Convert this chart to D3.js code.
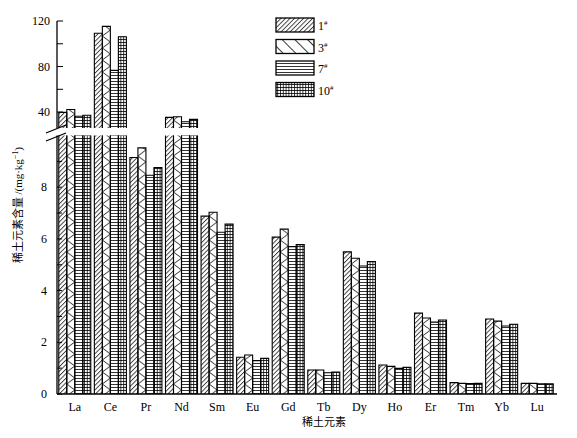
<!DOCTYPE html>
<html>
<head>
<meta charset="utf-8">
<script src="https://cdn.jsdelivr.net/npm/d3@7"></script>
<style>
  body { margin: 0; background: #fff; }
  text { font-family: "Liberation Serif", "Times New Roman", serif; fill: #000; }
  .cjk { font-family: "Noto Sans CJK SC", sans-serif; }
</style>
</head>
<body>
<div id="chart"></div>
<script>
// rare earth elements on the x axis
const elements = ["La", "Ce", "Pr", "Nd", "Sm", "Eu", "Gd", "Tb", "Dy", "Ho", "Er", "Tm", "Yb", "Lu"];
// sample series (mg/kg)
const sample1 = [39.7, 109.2, 9.15, 35.3, 6.88, 1.42, 6.07, 0.93, 5.50, 1.12, 3.13, 0.44, 2.90, 0.41];
const sample3 = [42.3, 115.3, 9.52, 35.9, 7.03, 1.51, 6.38, 0.93, 5.25, 1.07, 2.94, 0.41, 2.82, 0.41];
const sample7 = [36.3, 76.6, 8.46, 31.5, 6.26, 1.29, 5.70, 0.82, 4.95, 0.99, 2.78, 0.40, 2.63, 0.39];
const sample10 = [37.2, 106.2, 8.76, 33.6, 6.57, 1.38, 5.78, 0.85, 5.12, 1.03, 2.86, 0.41, 2.70, 0.39];
const seriesNames = ["1", "3", "7", "10"];
// y ticks for the two parts of the broken axis
const upperTicks = [40, 60, 80, 100, 120];
const upperLabels = [40, 80, 120];
const lowerTicks = [0, 1, 2, 3, 4, 5, 6, 7, 8, 9];
const lowerLabels = [0, 2, 4, 6, 8];

const series = [sample1, sample3, sample7, sample10];

const w = 577, h = 438;
const svg = d3.select("#chart").append("svg")
    .attr("width", w)
    .attr("height", h);

// scales
const x0 = d3.scaleBand().domain(elements).range([57, 555]).paddingInner(0.1).paddingOuter(0.05);
const x1 = d3.scaleBand().domain(d3.range(4)).range([0, x0.bandwidth()]);
const yLow = d3.scaleLinear().domain([0, 10]).range([394, 135.5]);
const yUp = d3.scaleLinear().domain([26, 120]).range([128, 21]);

// patterns
const defs = svg.append("defs");
// 1# dense "/" hatch
defs.append("pattern").attr("id", "p1").attr("patternUnits", "userSpaceOnUse")
    .attr("width", 3.2).attr("height", 10).attr("patternTransform", "rotate(45)")
    .append("line").attr("x1", 0.5).attr("x2", 0.5).attr("y1", 0).attr("y2", 10)
    .attr("stroke", "#000").attr("stroke-width", 0.8);
// 7# horizontal lines
defs.append("pattern").attr("id", "p7").attr("patternUnits", "userSpaceOnUse")
    .attr("width", 6).attr("height", 3)
    .append("line").attr("x1", 0).attr("x2", 6).attr("y1", 0.5).attr("y2", 0.5)
    .attr("stroke", "#000").attr("stroke-width", 0.8);
// 10# grid
const p10 = defs.append("pattern").attr("id", "p10").attr("patternUnits", "userSpaceOnUse")
    .attr("width", 2.8).attr("height", 3);
p10.append("line").attr("x1", 0).attr("x2", 2.8).attr("y1", 0.5).attr("y2", 0.5)
    .attr("stroke", "#000").attr("stroke-width", 0.8);
p10.append("line").attr("x1", 0.5).attr("x2", 0.5).attr("y1", 0).attr("y2", 3)
    .attr("stroke", "#000").attr("stroke-width", 0.8);
// 3# legend "\" hatch
defs.append("pattern").attr("id", "p3leg").attr("patternUnits", "userSpaceOnUse")
    .attr("width", 9).attr("height", 20).attr("patternTransform", "rotate(-45)")
    .append("line").attr("x1", 0.5).attr("x2", 0.5).attr("y1", 0).attr("y2", 20)
    .attr("stroke", "#000").attr("stroke-width", 0.8);
// 3# chevrons, one pattern per bar so they line up with the bar edges
elements.forEach((el, i) => {
    const bx = x0(el) + x1(1), bw = x1.bandwidth();
    defs.append("pattern").attr("id", "p3-" + i).attr("patternUnits", "userSpaceOnUse")
        .attr("x", bx).attr("y", 0).attr("width", bw).attr("height", 12)
        .append("path").attr("d", `M0,0 L${bw},6 L0,12`)
        .attr("fill", "none").attr("stroke", "#000").attr("stroke-width", 0.8);
});
const fillFor = (s, i) => s === 1 ? `url(#p3-${i})` : `url(#p${seriesNames[s]})`;

// bars
const g = svg.append("g");
elements.forEach((el, i) => {
    series.forEach((vals, s) => {
        const v = vals[i];
        const bx = x0(el) + x1(s), bw = x1.bandwidth();
        if (v <= 10) {
            g.append("rect").attr("x", bx).attr("y", yLow(v)).attr("width", bw)
                .attr("height", yLow(0) - yLow(v)).attr("fill", fillFor(s, i));
            g.append("path").attr("d", `M${bx},${yLow(0)} V${yLow(v)} H${bx + bw} V${yLow(0)}`)
                .attr("fill", "none").attr("stroke", "#000").attr("stroke-width", 1.1);
        } else {
            // lower part, cut at the break
            g.append("rect").attr("x", bx).attr("y", yLow(10)).attr("width", bw)
                .attr("height", yLow(0) - yLow(10)).attr("fill", fillFor(s, i));
            g.append("path").attr("d", `M${bx},${yLow(0)} V${yLow(10)} M${bx + bw},${yLow(10)} V${yLow(0)}`)
                .attr("fill", "none").attr("stroke", "#000").attr("stroke-width", 1.1);
            // upper part
            g.append("rect").attr("x", bx).attr("y", yUp(v)).attr("width", bw)
                .attr("height", yUp(26) - yUp(v)).attr("fill", fillFor(s, i));
            g.append("path").attr("d", `M${bx},${yUp(26)} V${yUp(v)} H${bx + bw} V${yUp(26)}`)
                .attr("fill", "none").attr("stroke", "#000").attr("stroke-width", 1.1);
        }
    });
});

// y axis, lower part
const axisX = 57;
svg.append("line").attr("x1", axisX).attr("x2", axisX).attr("y1", yLow(0)).attr("y2", yLow(10))
    .attr("stroke", "#000").attr("stroke-width", 1.3);
svg.append("g").selectAll("line").data(lowerTicks).enter().append("line")
    .attr("x1", axisX).attr("x2", axisX + 5)
    .attr("y1", d => yLow(d)).attr("y2", d => yLow(d))
    .attr("stroke", "#000").attr("stroke-width", 1);
svg.append("g").selectAll("text").data(lowerLabels).enter().append("text")
    .attr("x", axisX - 10).attr("y", d => yLow(d) + 4)
    .attr("text-anchor", "end").style("font-size", "12px")
    .text(d => d);

// y axis, upper part
svg.append("line").attr("x1", axisX).attr("x2", axisX).attr("y1", yUp(26)).attr("y2", yUp(120))
    .attr("stroke", "#000").attr("stroke-width", 1.3);
svg.append("g").selectAll("line").data(upperTicks).enter().append("line")
    .attr("x1", axisX).attr("x2", axisX + 6)
    .attr("y1", d => yUp(d)).attr("y2", d => yUp(d))
    .attr("stroke", "#000").attr("stroke-width", 1);
svg.append("g").selectAll("text").data(upperLabels).enter().append("text")
    .attr("x", axisX - 7).attr("y", d => yUp(d) + 4)
    .attr("text-anchor", "end").style("font-size", "12px")
    .text(d => d);

// break marks
svg.append("g").selectAll("line").data([0, 8]).enter().append("line")
    .attr("x1", 46).attr("x2", 66)
    .attr("y1", d => 133 + d).attr("y2", d => 125 + d)
    .attr("stroke", "#000").attr("stroke-width", 1.2);

// x axis baseline
svg.append("line").attr("x1", axisX).attr("x2", 557).attr("y1", yLow(0)).attr("y2", yLow(0))
    .attr("stroke", "#000").attr("stroke-width", 1.5);
svg.append("g").selectAll("text").data(elements).enter().append("text")
    .attr("x", d => x0(d) + x0.bandwidth() / 2).attr("y", 411)
    .attr("text-anchor", "middle").style("font-size", "12px")
    .text(d => d);

// axis titles
svg.append("text").attr("class", "cjk").attr("x", 324).attr("y", 426)
    .attr("text-anchor", "middle").style("font-size", "11px")
    .text("稀土元素");
const yt = svg.append("text").attr("transform", "translate(22,205) rotate(-90)")
    .attr("text-anchor", "middle").style("font-size", "11px");
yt.append("tspan").attr("class", "cjk").text("稀土元素含量 ");
yt.append("tspan").text("/(mg·kg");
yt.append("tspan").attr("dy", -4).style("font-size", "8px").text("−1");
yt.append("tspan").attr("dy", 4).text(")");

// legend
const legend = svg.append("g");
seriesNames.forEach((name, s) => {
    const ly = 18 + s * 21.5;
    legend.append("rect").attr("x", 276).attr("y", ly).attr("width", 38).attr("height", 14)
        .attr("fill", s === 1 ? "url(#p3leg)" : `url(#p${name})`)
        .attr("stroke", "#000").attr("stroke-width", 1.3);
    const t = legend.append("text").attr("x", 318).attr("y", ly + 12).style("font-size", "12px");
    t.append("tspan").text(name);
    t.append("tspan").attr("dy", -5).style("font-size", "7px").text("#");
});
</script>
</body>
</html>
